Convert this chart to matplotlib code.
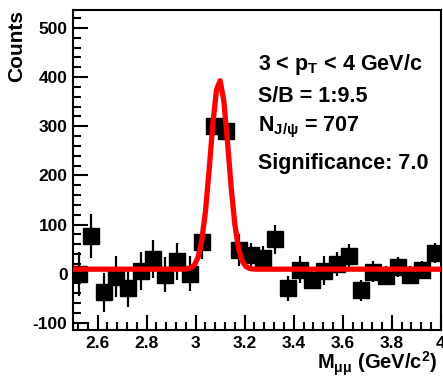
import numpy as np
import matplotlib
matplotlib.use('Agg')
import matplotlib.pyplot as plt

plt.rcParams['font.family'] = ['Liberation Sans', 'DejaVu Sans']
plt.rcParams['font.weight'] = 'bold'
plt.rcParams['axes.labelweight'] = 'bold'
plt.rcParams['axes.unicode_minus'] = False
plt.rcParams['mathtext.fontset'] = 'custom'
plt.rcParams['mathtext.rm'] = 'Liberation Sans:bold'
plt.rcParams['mathtext.it'] = 'Liberation Sans:bold'
plt.rcParams['mathtext.bf'] = 'Liberation Sans:bold'

# dimuon invariant mass histogram (bin centres, counts, errors)
mass = [2.525, 2.575, 2.625, 2.675, 2.725, 2.775, 2.825, 2.875, 2.925, 2.975,
        3.025, 3.075, 3.125, 3.175, 3.225, 3.275, 3.325, 3.375, 3.425, 3.475,
        3.525, 3.575, 3.625, 3.675, 3.725, 3.775, 3.825, 3.875, 3.925, 3.975]
counts = [0, 77, -38, -6, -30, 6, 30, -2, 25, 0,
          64, 300, 290, 48, 37, 32, 70, -30, 8, -12,
          6, 20, 36, -34, 4, -4, 14, -2, 8, 42]
errors = [45, 45, 40, 42, 38, 39, 38, 36, 37, 35,
          35, 15, 15, 32, 25, 25, 30, 26, 27, 20,
          30, 25, 25, 22, 22, 20, 20, 18, 18, 20]

# fit: gaussian + constant background
fit_mean = 3.097
fit_sigma = 0.037
fit_amp = 385
fit_bkg = 9

xticks = [2.6, 2.8, 3.0, 3.2, 3.4, 3.6, 3.8, 4.0]
xticklabels = ['2.6', '2.8', '3', '3.2', '3.4', '3.6', '3.8', '4']
yticks = [-100, 0, 100, 200, 300, 400, 500]

fig = plt.figure(figsize=(4.43, 3.79), dpi=100)
ax = fig.add_axes([0.165, 0.129, 0.83, 0.845])

ax.errorbar(mass, counts, yerr=errors, fmt='s', color='black', ms=11,
            elinewidth=1.6, capsize=0, zorder=2)

# ROOT-like coarse sampling of the fit function
xf = np.linspace(2.5, 4.0, 101)
yf = fit_bkg + fit_amp * np.exp(-0.5 * ((xf - fit_mean) / fit_sigma) ** 2)
ax.plot(xf, yf, color='red', lw=3.8, zorder=3)

ax.set_xlim(2.5, 4.0)
ax.set_ylim(-115, 537)
ax.set_xticks(xticks)
ax.set_xticklabels(xticklabels)
ax.set_yticks(yticks)
ax.set_xticks(np.arange(2.52, 4.0, 0.04), minor=True)
ax.set_yticks(np.arange(-100, 537, 20), minor=True)
ax.tick_params(which='both', direction='in', width=1.5, labelsize=12.5, top=False, right=False)
ax.tick_params(which='major', length=11, pad=4)
ax.tick_params(which='minor', length=6)
for s in ax.spines.values():
    s.set_linewidth(1.5)

ax.set_ylabel('Counts', loc='top', fontsize=15, labelpad=5)
ax.set_xlabel('M$_{\\mathrm{μμ}}$ (GeV/c$^{2}$)', loc='right', fontsize=14.5)
ax.xaxis.set_label_coords(0.992, -0.06)

tx = 0.503
fs = 15.5
ax.text(tx, 0.828, '3 < p$_{\\mathrm{T}}$ < 4 GeV/c', transform=ax.transAxes, fontsize=fs, va='center')
ax.text(tx, 0.731, 'S/B = 1:9.5', transform=ax.transAxes, fontsize=fs, va='center')
ax.text(tx, 0.634, 'N$_{\\mathrm{J/ψ}}$ = 707', transform=ax.transAxes, fontsize=fs, va='center')
ax.text(tx, 0.519, 'Significance: 7.0', transform=ax.transAxes, fontsize=fs, va='center')

fig.savefig('out.png', dpi=100)
